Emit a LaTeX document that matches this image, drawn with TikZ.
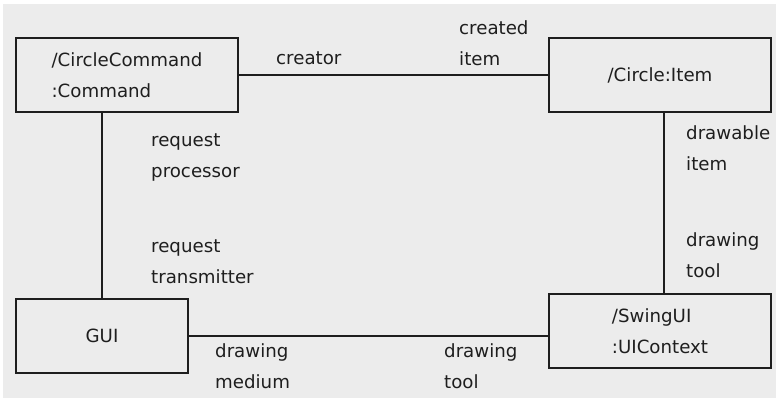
\documentclass[tikz,border=0pt]{standalone}
\usepackage{fontspec}
\setmainfont{DejaVu Sans}
\definecolor{bgc}{HTML}{ECECEC}
\definecolor{ink}{HTML}{1E1E1E}
\begin{document}
\begin{tikzpicture}[x=1pt,y=-1pt,
  every node/.style={font=\fontsize{18.2}{30.5}\selectfont, text=ink},
  obj/.style={draw=ink, line width=1.6pt, inner sep=0pt, align=center},
  lbl/.style={inner sep=0pt, align=left, anchor=base west},
  link/.style={draw=ink, line width=1.6pt}]
\useasboundingbox[fill=white] (0,0) rectangle (776,399);
\fill[bgc] (3,4) rectangle (776,398);
\node[obj, minimum width=222pt, minimum height=74pt, align=left] (cmd) at (127,75) {/CircleCommand\\:Command};
\node[obj, minimum width=222pt, minimum height=74pt] (item) at (660,75) {/Circle:Item};
\node[obj, minimum width=172pt, minimum height=74pt] (gui) at (102,336) {GUI};
\node[obj, minimum width=222pt, minimum height=74pt, align=left] (swing) at (660,331) {/SwingUI\\:UIContext};
\draw[link] (cmd.east) -- (item.west);
\draw[link] (gui.north |- cmd.south) -- (gui.north);
\draw[link] ([xshift=4pt]item.south) -- ([xshift=4pt]swing.north);
\draw[link] (gui.east) -- (gui.east -| swing.west);
\node[lbl] (l1) at (276,64) {creator};
\node[lbl] (l2) at (459,65) {created\\item};
\node[lbl] (l3) at (151,177) {request\\processor};
\node[lbl] (l4) at (151,283) {request\\transmitter};
\node[lbl] (l5) at (686,170) {drawable\\item};
\node[lbl] (l6) at (686,277) {drawing\\tool};
\node[lbl] (l7) at (215,388) {drawing\\medium};
\node[lbl] (l8) at (444,388) {drawing\\tool};
\end{tikzpicture}
\end{document}
